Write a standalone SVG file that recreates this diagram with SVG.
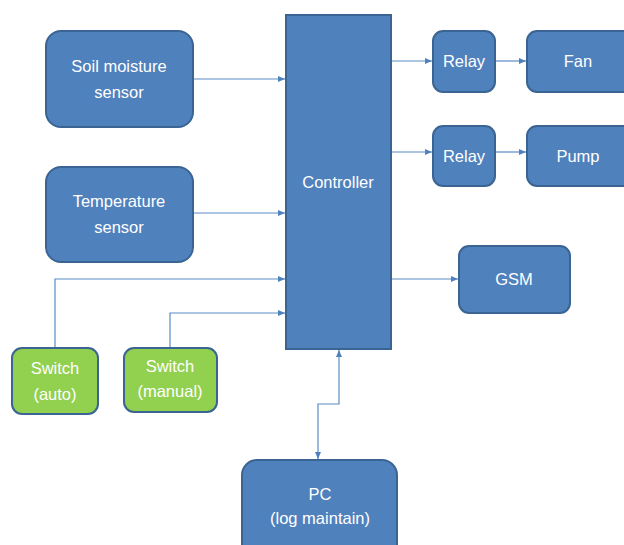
<svg xmlns="http://www.w3.org/2000/svg" width="624" height="545" viewBox="0 0 624 545">
<style>
.b{fill:#4F81BD;stroke:#3A6592;stroke-width:2}
.g{fill:#92D050;stroke:#3A6592;stroke-width:2}
.t{fill:#fff;font-family:"Liberation Sans",Arial,sans-serif;font-size:16.5px;text-anchor:middle;dominant-baseline:middle}
.c{fill:none;stroke:#5B8CC8;stroke-width:1.2}
</style>
<defs>
<marker id="a" markerWidth="8" markerHeight="8" refX="7" refY="4" orient="auto" markerUnits="userSpaceOnUse">
<path d="M0,1 L7,4 L0,7 Z" fill="#4F81BD"/>
</marker>
<marker id="s" markerWidth="8" markerHeight="8" refX="7" refY="4" orient="auto-start-reverse" markerUnits="userSpaceOnUse">
<path d="M0,1 L7,4 L0,7 Z" fill="#4F81BD"/>
</marker>
</defs>
<rect width="624" height="545" fill="#fff"/>
<g id="connectors">
<path class="c" d="M193,79 H285" marker-end="url(#a)"/>
<path class="c" d="M193,213 H285" marker-end="url(#a)"/>
<path class="c" d="M55,348 V279 H285" marker-end="url(#a)"/>
<path class="c" d="M170,348 V313 H285" marker-end="url(#a)"/>
<path class="c" d="M391,61 H432" marker-end="url(#a)"/>
<path class="c" d="M495,61 H526" marker-end="url(#a)"/>
<path class="c" d="M391,152 H432" marker-end="url(#a)"/>
<path class="c" d="M495,152 H526" marker-end="url(#a)"/>
<path class="c" d="M391,279 H458" marker-end="url(#a)"/>
<path class="c" d="M339,350 V404 H318 V459" marker-start="url(#s)" marker-end="url(#a)"/>
</g>
<g id="soil"><rect class="b" x="46" y="31" width="147" height="96" rx="15"/><text class="t" x="119" y="68">Soil moisture</text><text class="t" x="119" y="94">sensor</text></g>
<g id="temp"><rect class="b" x="46" y="167" width="147" height="95" rx="15"/><text class="t" x="119" y="203">Temperature</text><text class="t" x="119" y="229">sensor</text></g>
<g id="controller"><rect class="b" x="286" y="15" width="105" height="334"/><text class="t" x="338" y="184">Controller</text></g>
<g id="relay1"><rect class="b" x="433" y="31" width="62" height="61" rx="10"/><text class="t" x="464" y="63">Relay</text></g>
<g id="relay2"><rect class="b" x="433" y="126" width="62" height="60" rx="10"/><text class="t" x="464" y="158">Relay</text></g>
<g id="fan"><rect class="b" x="527" y="31" width="110" height="61" rx="10"/><text class="t" x="578" y="63">Fan</text></g>
<g id="pump"><rect class="b" x="527" y="126" width="110" height="60" rx="10"/><text class="t" x="578" y="158">Pump</text></g>
<g id="gsm"><rect class="b" x="459" y="246" width="111" height="67" rx="10"/><text class="t" x="514" y="281">GSM</text></g>
<g id="switch-auto"><rect class="g" x="12" y="348" width="86" height="66" rx="10"/><text class="t" x="55" y="370">Switch</text><text class="t" x="55" y="396">(auto)</text></g>
<g id="switch-manual"><rect class="g" x="124" y="348" width="93" height="64" rx="10"/><text class="t" x="170" y="368">Switch</text><text class="t" x="170" y="393">(manual)</text></g>
<g id="pc"><rect class="b" x="242" y="460" width="155" height="100" rx="15"/><text class="t" x="320" y="496">PC</text><text class="t" x="320" y="520">(log maintain)</text></g>
</svg>
